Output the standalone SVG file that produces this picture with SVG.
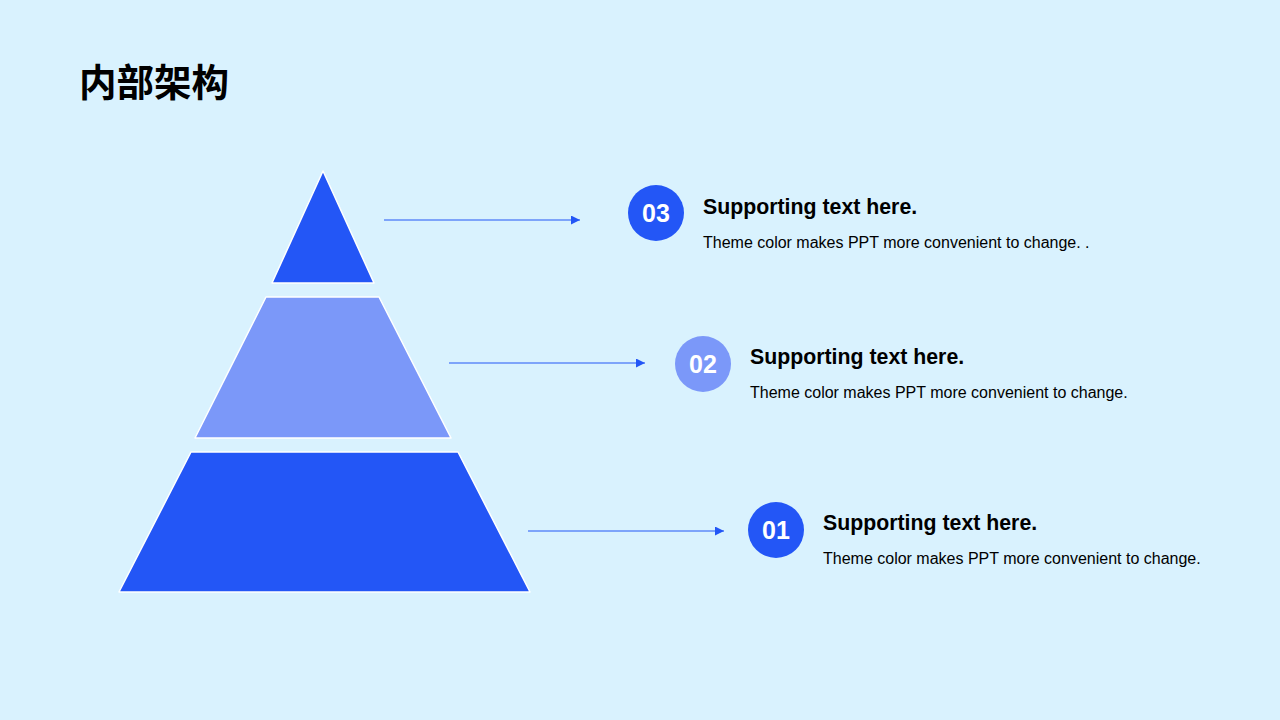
<svg xmlns="http://www.w3.org/2000/svg" width="1280" height="720" viewBox="0 0 1280 720">
<defs>
<style>
.title{font-family:"Noto Sans CJK SC","Liberation Sans",sans-serif;font-weight:700;font-size:37.5px;fill:#000}
.h{font-family:"Liberation Sans",Arial,sans-serif;font-weight:700;font-size:21.3px;fill:#000}
.b{font-family:"Liberation Sans",Arial,sans-serif;font-size:16px;fill:#000}
.num{font-family:"Liberation Sans",Arial,sans-serif;font-weight:700;font-size:25px;fill:#fff;text-anchor:middle}
.lvl{stroke:#fff;stroke-width:1.5;stroke-linejoin:round}
.con{stroke:#2356F6;stroke-width:1;fill:none}
</style>
<marker id="ah" viewBox="0 0 10 10" refX="10" refY="5" markerWidth="9" markerHeight="9" markerUnits="userSpaceOnUse" orient="auto">
<path d="M0,0 L10,5 L0,10 Z" fill="#2356F6"/>
</marker>
</defs>
<rect width="1280" height="720" fill="#D9F2FE"/>
<text class="title" x="79" y="96">内部架构</text>
<g id="level3"><polygon class="lvl" points="323,171 374,283 272,283" fill="#2356F6"/></g>
<g id="level2"><polygon class="lvl" points="266,297 379,297 451,438 195,438" fill="#7B98F9"/></g>
<g id="level1"><polygon class="lvl" points="191,452 458,452 530,592 119,592" fill="#2356F6"/></g>
<g id="connectors">
<line class="con" x1="384" y1="220" x2="580" y2="220" marker-end="url(#ah)"/>
<line class="con" x1="449" y1="363" x2="645" y2="363" marker-end="url(#ah)"/>
<line class="con" x1="528" y1="531" x2="724" y2="531" marker-end="url(#ah)"/>
</g>
<g id="item3">
<circle cx="656" cy="213" r="28" fill="#2356F6"/>
<text class="num" x="656" y="222">03</text>
<text class="h" x="703" y="214">Supporting text here.</text>
<text class="b" x="703" y="248">Theme color makes PPT more convenient to change. .</text>
</g>
<g id="item2">
<circle cx="703" cy="364" r="28" fill="#7B98F9"/>
<text class="num" x="703" y="373">02</text>
<text class="h" x="750" y="364">Supporting text here.</text>
<text class="b" x="750" y="398">Theme color makes PPT more convenient to change.</text>
</g>
<g id="item1">
<circle cx="776" cy="530" r="28" fill="#2356F6"/>
<text class="num" x="776" y="539">01</text>
<text class="h" x="823" y="530">Supporting text here.</text>
<text class="b" x="823" y="564">Theme color makes PPT more convenient to change.</text>
</g>
</svg>
